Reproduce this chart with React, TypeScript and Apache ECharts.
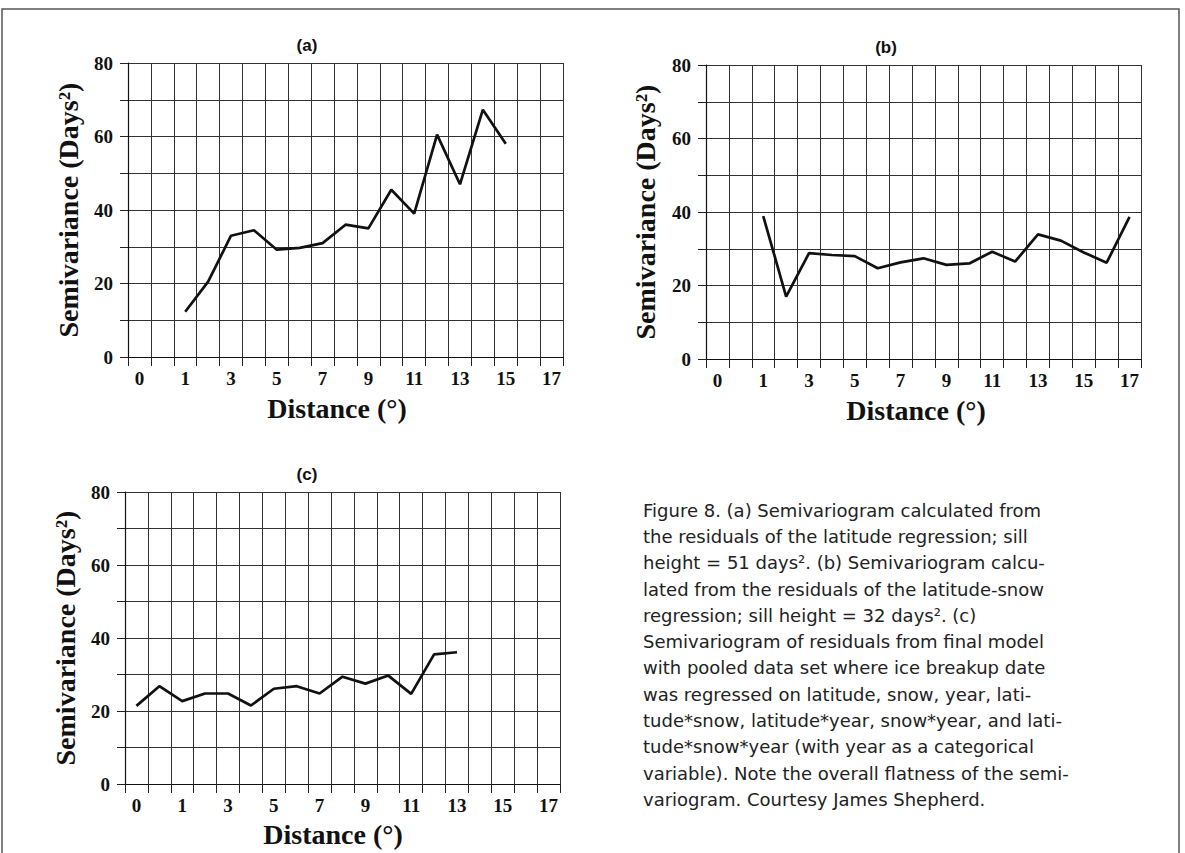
import React, { useEffect, useRef } from "react";
import * as echarts from "echarts";

// Category slots along the distance axis (19 slots, labelled every other slot)
const categoryLabels = ["0", "", "1", "", "3", "", "5", "", "7", "", "9", "", "11", "", "13", "", "15", "", "17"];

// Semivariance values per slot (null = no point)
const seriesA = [null, null, 12.3, 20.5, 33, 34.5, 29.2, 29.7, 31, 36, 35, 45.5, 39, 60.5, 47, 67.3, 58, null, null];
const seriesB = [null, null, 38.9, 17, 28.8, 28.3, 28, 24.7, 26.3, 27.4, 25.6, 26, 29.2, 26.5, 33.9, 32.2, 29, 26.2, 38.7];
const seriesC = [21.4, 26.8, 22.7, 24.8, 24.8, 21.5, 26.1, 26.8, 24.8, 29.4, 27.5, 29.7, 24.7, 35.5, 36.1, null, null, null, null];

const panelTitles = ["(a)", "(b)", "(c)"];
const yTitle = "Semivariance (Days\u00B2)";
const xTitle = "Distance (\u00B0)";
const yMin = 0;
const yMax = 80;
const yStep = 10;
const yLabelStep = 20;

const captionLines = [
  "Figure 8. (a) Semivariogram calculated from",
  "the residuals of the latitude regression; sill",
  "height = 51 days\u00B2. (b) Semivariogram calcu-",
  "lated from the residuals of the latitude-snow",
  "regression; sill height = 32 days\u00B2. (c)",
  "Semivariogram of residuals from final model",
  "with pooled data set where ice breakup date",
  "was regressed on latitude, snow, year, lati-",
  "tude*snow, latitude*year, snow*year, and lati-",
  "tude*snow*year (with year as a categorical",
  "variable). Note the overall flatness of the semi-",
  "variogram. Courtesy James Shepherd.",
];

const SERIF = "'Liberation Serif', 'Times New Roman', serif";
const SANS = "'Liberation Sans', Arial, sans-serif";

export default function App() {
  const ref = useRef<HTMLDivElement>(null);
  useEffect(() => {
    document.body.style.margin = "0";
    if (!ref.current) return;
    const chart = echarts.init(ref.current, undefined, { renderer: "svg" });

    const grids = [
      { left: 128, top: 63, width: 435, height: 294 },
      { left: 706, top: 65, width: 435, height: 294 },
      { left: 125, top: 492, width: 435, height: 292 },
    ];
    const allSeries = [seriesA, seriesB, seriesC];

    const xAxes = grids.map((_, i) => ({
      type: "category",
      gridIndex: i,
      data: categoryLabels.map((_l, k) => String(k)),
      boundaryGap: true,
      axisLine: { show: true, lineStyle: { color: "#111", width: 1.2 } },
      axisTick: { show: true, interval: 0, length: 9, lineStyle: { color: "#222", width: 1 } },
      splitLine: { show: true, interval: 0, lineStyle: { color: "#333", width: 1 } },
      axisLabel: {
        interval: 0,
        margin: 12,
        color: "#111",
        fontFamily: SERIF,
        fontWeight: "bold",
        fontSize: 19,
        formatter: (_v: string, idx: number) => categoryLabels[idx],
      },
    }));

    const yAxes = grids.map((_, i) => ({
      type: "value",
      gridIndex: i,
      min: yMin,
      max: yMax,
      interval: yStep,
      axisLine: { show: true, lineStyle: { color: "#111", width: 1.2 } },
      axisTick: { show: true, length: 8, lineStyle: { color: "#222", width: 1 } },
      splitLine: { show: true, lineStyle: { color: "#333", width: 1 } },
      axisLabel: {
        margin: 15,
        color: "#111",
        fontFamily: SERIF,
        fontWeight: "bold",
        fontSize: 19,
        formatter: (v: number) => (v % yLabelStep === 0 ? String(v) : ""),
      },
    }));

    const series = allSeries.map((d, i) => ({
      type: "line",
      xAxisIndex: i,
      yAxisIndex: i,
      data: d,
      showSymbol: false,
      symbol: "none",
      connectNulls: false,
      lineStyle: { color: "#111", width: 2.7 },
      z: 5,
    }));

    const titlePos = [
      [307, 45],
      [886, 47],
      [307, 474],
    ];
    const xNamePos = [
      [337, 408],
      [916, 410],
      [333, 834],
    ];
    const yNamePos = [
      [68, 210],
      [645, 212],
      [65, 638],
    ];

    const txt = (x: number, y: number, text: string, font: string, extra: any = {}) => ({
      type: "text",
      x,
      y,
      ...extra,
      style: {
        text,
        font,
        fill: "#111",
        align: "center",
        verticalAlign: "middle",
        textAlign: "center",
        textVerticalAlign: "middle",
      },
    });

    const graphics: any[] = [
      {
        type: "rect",
        shape: { x: 2, y: 9, width: 1177, height: 870 },
        style: { fill: "none", stroke: "#555", lineWidth: 1.5 },
        silent: true,
      },
    ];
    panelTitles.forEach((t, i) => {
      graphics.push(txt(titlePos[i][0], titlePos[i][1], t, `bold 17px ${SANS}`));
      graphics.push(txt(xNamePos[i][0], xNamePos[i][1], xTitle, `bold 28px ${SERIF}`));
      graphics.push(
        txt(yNamePos[i][0], yNamePos[i][1], yTitle, `bold 28px ${SERIF}`, { rotation: Math.PI / 2 })
      );
    });
    graphics.push({
      type: "text",
      x: 643,
      y: 497,
      style: {
        text: captionLines.join("\n"),
        font: `18px 'DejaVu Sans', sans-serif`,
        fill: "#222",
        lineHeight: 26.3,
        align: "left",
        verticalAlign: "top",
        textAlign: "left",
        textVerticalAlign: "top",
      },
    });

    chart.setOption({
      animation: false,
      backgroundColor: "#fff",
      grid: grids.map((g) => ({ ...g, containLabel: false })),
      xAxis: xAxes,
      yAxis: yAxes,
      series,
      graphic: { elements: graphics },
    } as any);

    return () => chart.dispose();
  }, []);
  return <div ref={ref} style={{ width: 1185, height: 853 }} />;
}
